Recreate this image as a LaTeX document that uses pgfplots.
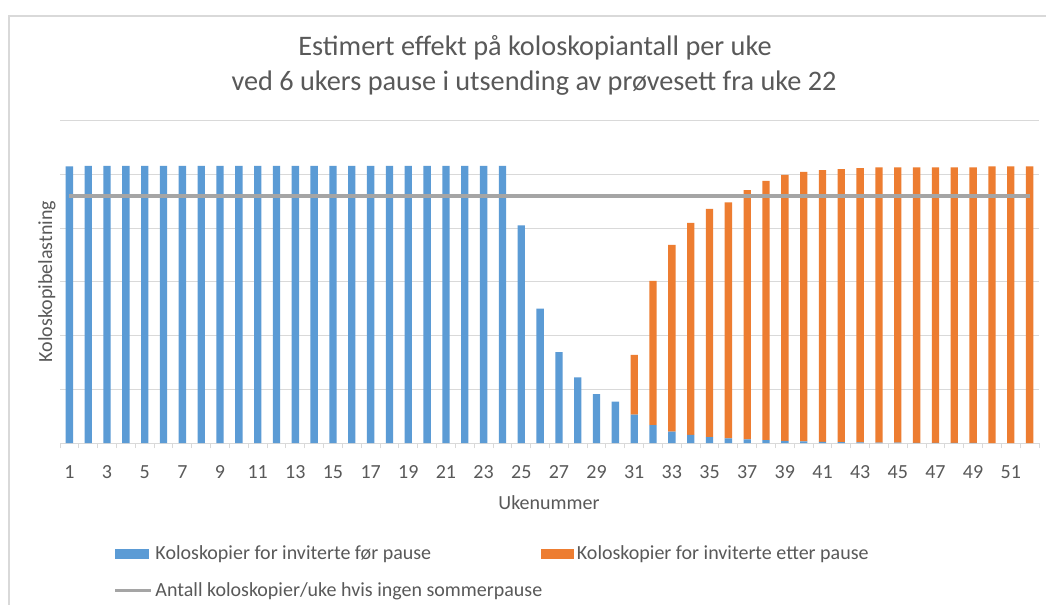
\documentclass[border=0pt]{standalone}
\usepackage{pgfplots}
\usepackage{pgfplotstable}
\pgfplotsset{compat=1.18}
\usepackage{fontspec}
\setmainfont{Carlito}
\definecolor{cblue}{HTML}{5B9BD5}
\definecolor{corange}{HTML}{ED7D31}
\definecolor{cgray}{HTML}{A5A5A5}
\definecolor{ctext}{HTML}{595959}
\definecolor{cgrid}{HTML}{D9D9D9}
\definecolor{cborder}{HTML}{D9D9D9}

\pgfplotstableread{
w blue orange
1 5.15 0
2 5.16 0
3 5.16 0
4 5.16 0
5 5.16 0
6 5.16 0
7 5.16 0
8 5.16 0
9 5.16 0
10 5.16 0
11 5.16 0
12 5.16 0
13 5.16 0
14 5.16 0
15 5.16 0
16 5.16 0
17 5.16 0
18 5.16 0
19 5.16 0
20 5.16 0
21 5.16 0
22 5.16 0
23 5.16 0
24 5.16 0
25 4.05 0
26 2.50 0
27 1.69 0
28 1.22 0
29 0.91 0
30 0.77 0
31 0.53 1.11
32 0.335 2.685
33 0.21 3.48
34 0.15 3.95
35 0.11 4.25
36 0.087 4.393
37 0.068 4.642
38 0.056 4.824
39 0.04 4.95
40 0.03 5.02
41 0.022 5.058
42 0.016 5.084
43 0.012 5.108
44 0.008 5.122
45 0.006 5.124
46 0.004 5.126
47 0.003 5.127
48 0.002 5.128
49 0.001 5.129
50 0.0 5.15
51 0.0 5.15
52 0.0 5.15
}\data

\pgfplotstableread{
w ref
1 4.59
52 4.59
}\refline

\pgfplotsset{
  base/.style={
    at={(45.0pt,-332.25pt)}, anchor=south west,
    scale only axis, width=734.25pt, height=241.7pt,
    xmin=0.5, xmax=52.5, ymin=0, ymax=6,
  }
}

\begin{document}
\begin{tikzpicture}
\begin{scope}[x=0.75pt,y=-0.75pt]
\useasboundingbox (0,0) rectangle (1046,604);
\fill[white] (0,0) rectangle (1046,604);
\draw[cborder, line width=1.2pt] (8.8,15.8) rectangle (1100,700);
\end{scope}

\begin{axis}[base,
  ybar stacked, bar width=5.5pt,
  axis line style={draw=none},
  ymajorgrids, major grid style={draw=cgrid, line width=0.75pt},
  ytick={0,1,...,6}, yticklabels={},
  xtick={1,3,...,51}, xtick pos=bottom,
  minor xtick={0.5,1.5,...,52.5},
  tick align=outside,
  major tick length=0pt, minor tick length=3.75pt,
  minor tick style={draw=cgrid, line width=0.75pt},
  /pgf/number format/assume math mode=true,
  xticklabel style={font=\fontsize{15}{18}\selectfont, text=ctext, anchor=base, yshift=-26.25pt},
  legend columns=2,
  legend cell align=left,
  legend style={at={(axis description cs:0.0545,-0.31)}, anchor=north west,
    draw=none, fill=none, inner sep=0pt,
    font=\fontsize{15}{18}\selectfont, text=ctext,
    row sep=11.5pt,
    /tikz/every even column/.append style={column sep=-3pt}},
]
\addplot[fill=cblue, draw=none,
  legend image code/.code={\fill[cblue] (0pt,-3.9pt) rectangle (25pt,3.9pt);}]
  table[x=w, y=blue] {\data};
\addlegendentry{Koloskopier for inviterte før pause}
\addplot[fill=corange, draw=none,
  legend image code/.code={\fill[corange] (0pt,-3.9pt) rectangle (25pt,3.9pt);}]
  table[x=w, y=orange] {\data};
\addlegendentry{Koloskopier for inviterte etter pause}
\addlegendimage{legend image code/.code={\draw[cgray, line width=2.4pt] (0pt,0pt) -- (27pt,0pt);}}
\addlegendentry{Antall koloskopier/uke hvis ingen sommerpause}
\end{axis}

\begin{axis}[base, hide axis]
\addplot[cgray, line width=3pt, no marks] table[x=w, y=ref] {\refline};
\end{axis}

\begin{scope}[x=0.75pt,y=-0.75pt, every node/.style={text=ctext}]
\node[anchor=base, font=\fontsize{21.2}{25}\selectfont] at (535,55) {Estimert effekt på koloskopiantall per uke};
\node[anchor=base, font=\fontsize{21.2}{25}\selectfont] at (534,90.7) {ved 6 ukers pause i utsending av prøvesett fra uke 22};
\node[anchor=base, font=\fontsize{15}{18}\selectfont] at (549,509.3) {Ukenummer};
\node[anchor=base, rotate=90, font=\fontsize{15}{18}\selectfont] at (52,281.7) {Koloskopibelastning};
\end{scope}
\end{tikzpicture}
\end{document}
